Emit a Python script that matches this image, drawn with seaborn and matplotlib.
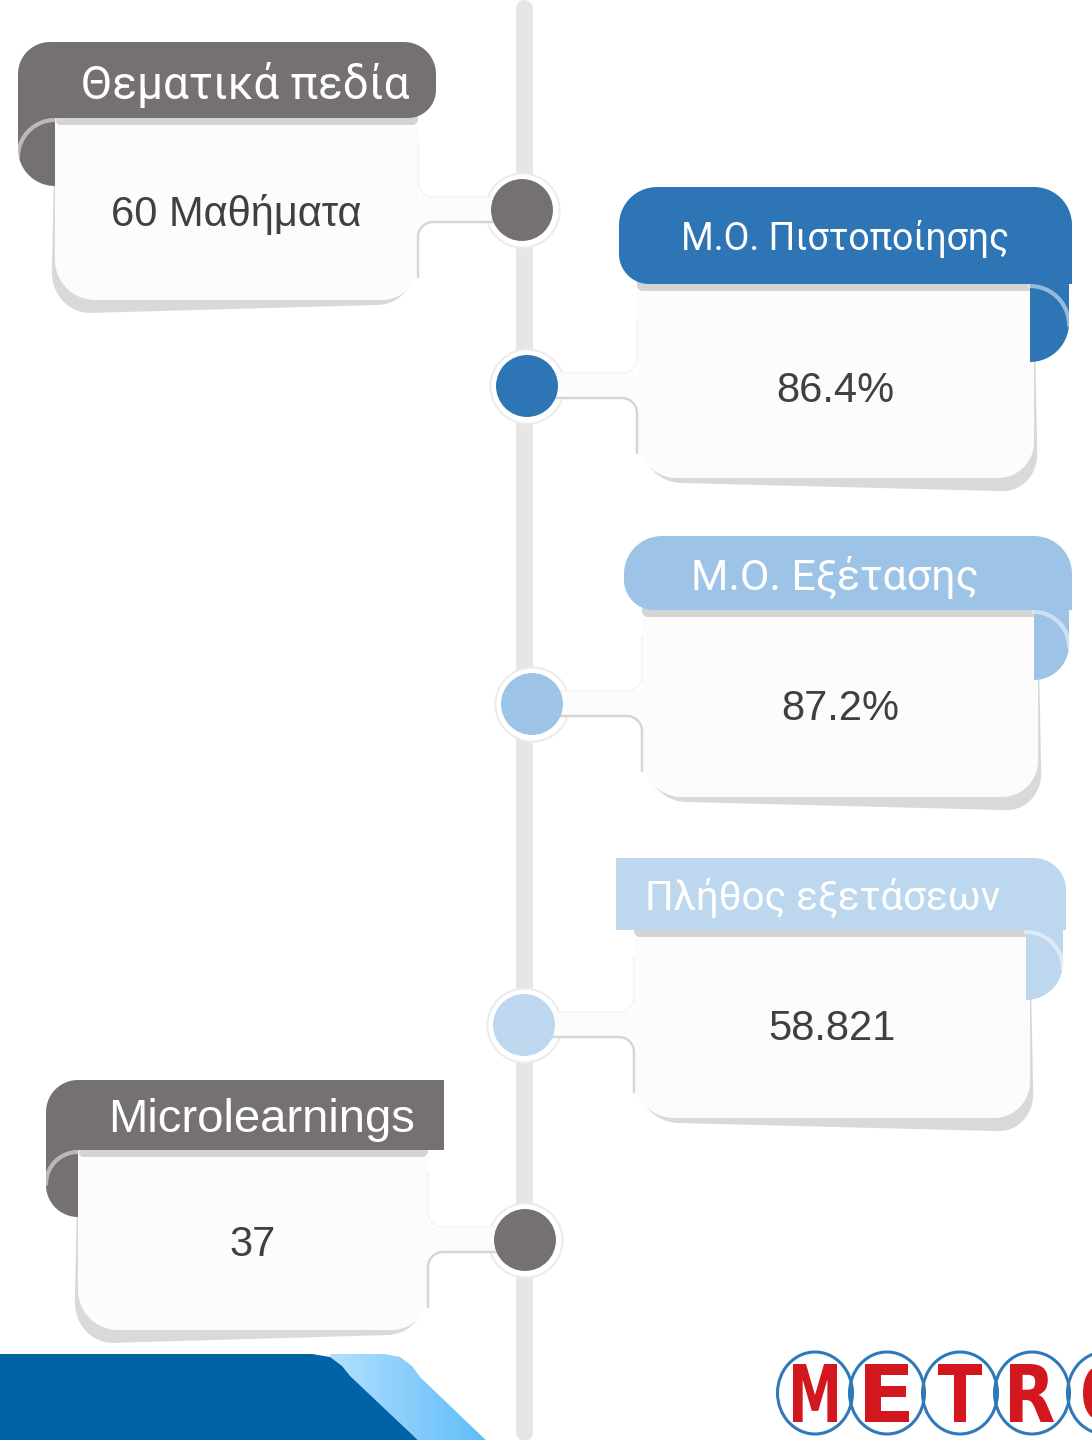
import numpy as np
import pandas as pd
import matplotlib
matplotlib.use("Agg")
import matplotlib.pyplot as plt
import seaborn as sns
from matplotlib.patches import Polygon, PathPatch, Ellipse
from matplotlib.textpath import TextPath
from matplotlib.font_manager import FontProperties
from matplotlib.transforms import Affine2D

# --- content -------------------------------------------------------------
TITLES = ["Θεματικά πεδία", "Μ.Ο. Πιστοποίησης", "Μ.Ο. Εξέτασης",
          "Πλήθος εξετάσεων", "Microlearnings"]
VALUES = ["60 Μαθήματα", "86.4%", "87.2%", "58.821", "37"]
SIDES = ["left", "right", "right", "right", "left"]
COLORS = ["#767171", "#2e75b6", "#9dc3e6", "#bdd7ee", "#767171"]
LOGO = list("METRO")

# --- layout (pixels, y grows downwards) ----------------------------------
DOT_X = [522, 527, 532, 524, 525]
DOT_Y = [210, 386, 704, 1025, 1240]
HEADER = [(18, 42, 436, 118), (619, 187, 1072, 284), (624, 536, 1072, 610),
          (616, 858, 1066, 930), (46, 1080, 444, 1150)]
HEADER_R = [(32, 32, 28, 0), (38, 38, 0, 30), (38, 38, 0, 30),
            (0, 32, 0, 0), (32, 0, 0, 0)]  # tl, tr, br, bl
BODY = [(55, 118, 418, 300), (637, 284, 1034, 478), (642, 610, 1038, 797),
        (634, 930, 1030, 1118), (78, 1150, 428, 1330)]
CURL_BOTTOM = [186, 362, 680, 1000, 1217]
TITLE_X = [245, 845, 835, 823, 262]
TITLE_SIZE = [33, 27, 31, 29, 34]
TITLE_FONT = ["Roboto", "Roboto", "Roboto", "Roboto", "Liberation Sans"]
LOGO_X = [815, 887, 960, 1032, 1105]


def rounded(x0, y0, x1, y1, r):
    tl, tr, br, bl = r
    pts = []

    def arc(cx, cy, rad, a0, a1):
        if rad <= 0:
            pts.append((cx, cy))
            return
        t = np.radians(np.linspace(a0, a1, 20))
        pts.extend(zip(cx + rad * np.cos(t), cy + rad * np.sin(t)))

    arc(x0 + tl, y0 + tl, tl, 180, 270)
    arc(x1 - tr, y0 + tr, tr, 270, 360)
    arc(x1 - br, y1 - br, br, 0, 90)
    arc(x0 + bl, y1 - bl, bl, 90, 180)
    return np.array(pts)


def skewed_shadow(pts, box, side):
    x0, y0, x1, y1 = box
    out = pts.copy()
    t = np.clip((pts[:, 1] - y0) / (y1 - y0), 0, 1)
    f = (pts[:, 0] - x0) / (x1 - x0)
    if side == "right":
        dy = t * (4 + 10 * f)
        dx = t * 4
    else:
        dy = t * (14 - 10 * f)
        dx = -t * 4
    out[:, 0] += dx
    out[:, 1] += dy
    return out


def neck_edge(edge, y, dot_x, side, down):
    # card edge bending into the horizontal neck edge
    r = 15
    s = 1 if down else -1
    if side == "left":
        t = np.radians(np.linspace(180, 270, 20) if down else np.linspace(180, 90, 20))
        cx, cy = edge + r, y + s * r
        xs = np.r_[edge, cx + r * np.cos(t), dot_x - 26]
    else:
        t = np.radians(np.linspace(0, -90, 20) if down else np.linspace(0, 90, 20))
        cx, cy = edge - r, y + s * r
        xs = np.r_[edge, cx + r * np.cos(t), dot_x + 26]
    ys = np.r_[y + s * 55, cy + r * np.sin(t), y]
    return xs, ys


sns.set_theme(style="white")
plt.rcParams["font.family"] = ["Liberation Sans", "DejaVu Sans"]

fig = plt.figure(figsize=(10.92, 14.4), dpi=100)
ax = fig.add_axes([0, 0, 1, 1])

# timeline spine
ax.plot([524, 524], [8, 1432], color="#e6e6e6", lw=12.2,
        solid_capstyle="round", zorder=1)

for i, title in enumerate(TITLES):
    side = SIDES[i]
    col = COLORS[i]
    hx0, hy0, hx1, hy1 = HEADER[i]
    bx0, by0, bx1, by1 = BODY[i]
    body = rounded(bx0, by0, bx1, by1, (0, 0, 36, 40))
    ax.add_patch(Polygon(skewed_shadow(body, BODY[i], side), closed=True,
                         fc="#d9d9d9", ec="none", zorder=2))
    ax.add_patch(Polygon(body, closed=True, fc="#fcfcfc", ec="none", zorder=2.1))
    # shadow under header
    ax.add_patch(Polygon(rounded(bx0, hy1 - 4, bx1, hy1 + 7, (0, 0, 6, 6)),
                         closed=True, fc="#d4d4d4", ec="none", zorder=2.2))
    # rolled ribbon end
    if side == "left":
        cx0, cx1 = hx0, bx0
        w = cx1 - cx0
        curl = rounded(cx0, hy1 - 6, cx1, CURL_BOTTOM[i], (0, 0, 0, w))
        t = np.radians(np.linspace(180, 270, 30))
        hl_x, hl_y = cx1 + w * np.cos(t), hy1 + 2 + w + w * np.sin(t)
    else:
        cx0, cx1 = bx1 - 4, hx1 - 3
        w = cx1 - cx0
        curl = rounded(cx0, hy1 - 6, cx1, CURL_BOTTOM[i], (0, 0, w, 0))
        t = np.radians(np.linspace(270, 360, 30))
        hl_x, hl_y = cx0 + w * np.cos(t), hy1 + 2 + w + w * np.sin(t)
    ax.add_patch(Polygon(curl, closed=True, fc=col, ec="none", zorder=2.3))
    ax.plot(hl_x, hl_y, color="white", alpha=0.5, lw=3, zorder=2.35)
    # header band
    ax.add_patch(Polygon(rounded(hx0, hy0, hx1, hy1, HEADER_R[i]), closed=True,
                         fc=col, ec="none", zorder=2.4))
    ax.text(TITLE_X[i], (hy0 + hy1) / 2, title, color="white",
            fontsize=TITLE_SIZE[i], family=[TITLE_FONT[i], "DejaVu Sans"],
            ha="center", va="center_baseline", zorder=5)
    ax.text((bx0 + bx1) / 2, DOT_Y[i], VALUES[i], color="#404040",
            fontsize=30, ha="center", va="center_baseline", zorder=5)

    # neck joining the card with the timeline dot
    dx, dy = DOT_X[i], DOT_Y[i]
    edge = bx1 if side == "left" else bx0
    sgn = 1 if side == "left" else -1
    ax.add_patch(Polygon([(edge - sgn * 4, dy - 13), (dx, dy - 13),
                          (dx, dy + 12), (edge - sgn * 4, dy + 12)],
                         closed=True, fc="#fcfcfc", ec="none", zorder=3.5))
    lx, ly = neck_edge(edge, dy + 12, dx, side, True)
    ax.plot(lx, ly, color="#d6d6d6", lw=1.8, zorder=3.6)
    lx, ly = neck_edge(edge, dy - 13, dx, side, False)
    ax.plot(lx, ly, color="#f6f6f6", lw=1.5, zorder=3.6)

# timeline dots
dots = pd.DataFrame({"title": TITLES, "x": DOT_X, "y": DOT_Y})
sns.scatterplot(data=dots, x="x", y="y", s=2850, color="white",
                edgecolor="#ececec", linewidth=1.5, ax=ax, zorder=3)
sns.scatterplot(data=dots, x="x", y="y", hue="title",
                palette=dict(zip(TITLES, COLORS)), s=1990, linewidth=0,
                legend=False, ax=ax, zorder=4)

# bottom-left decorative band
light = Polygon([(300, 1354), (385, 1354), (400, 1357), (412, 1366),
                 (420, 1377), (492, 1446), (300, 1446)], closed=True,
                fc="none", ec="none", zorder=2)
ax.add_patch(light)
grad = np.linspace(0, 1, 256)[None, :]
img = ax.imshow(grad, extent=(330, 492, 1446, 1354), aspect="auto",
                cmap=matplotlib.colors.LinearSegmentedColormap.from_list(
                    "g", ["#b3e0ff", "#5bbbf8"]), zorder=2)
img.set_clip_path(light)
ax.add_patch(Polygon([(0, 1354), (312, 1354), (330, 1357), (342, 1366),
                      (350, 1376), (424, 1446), (0, 1446)], closed=True,
                     fc="#0063a6", ec="none", zorder=2.5))

# logo
fp = FontProperties(family="DejaVu Sans", weight="bold")
for ch, cx in zip(LOGO, LOGO_X):
    ax.add_patch(Ellipse((cx, 1393), 75, 82, fc="none", ec="#2f79b8",
                         lw=2.2, zorder=2))
    tp = TextPath((0, 0), ch, size=100, prop=fp)
    ext = tp.get_extents()
    tr = (Affine2D().translate(-ext.x0 - ext.width / 2, -ext.y0 - ext.height / 2)
          .scale(44 / ext.width, -58 / ext.height).translate(cx, 1393))
    ax.add_patch(PathPatch(tr.transform_path(tp), fc="#d3171f", ec="none",
                           zorder=2.1))

ax.set_xlim(0, 1092)
ax.set_ylim(1440, 0)
ax.axis("off")
fig.savefig("out.png", dpi=100, facecolor="white")
